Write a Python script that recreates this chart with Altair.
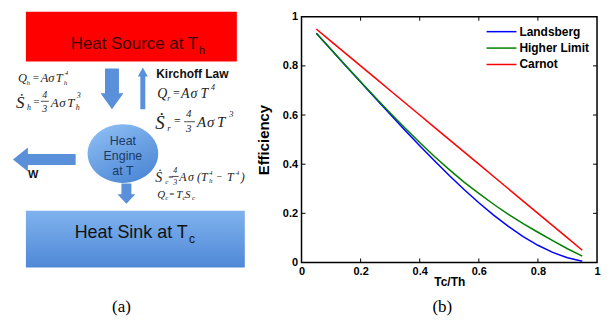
import altair as alt
import pandas as pd

# ---------------- panel (b): efficiency vs Tc/Th ----------------
tc_th = [0.05, 0.10, 0.15, 0.20, 0.25, 0.30, 0.35, 0.40, 0.45, 0.50,
         0.55, 0.60, 0.65, 0.70, 0.75, 0.80, 0.85, 0.90, 0.95]
landsberg = [0.933, 0.867, 0.800, 0.734, 0.668, 0.603, 0.538, 0.475, 0.414, 0.354,
             0.297, 0.243, 0.193, 0.147, 0.105, 0.070, 0.041, 0.019, 0.005]
higher_limit = [0.933, 0.867, 0.801, 0.735, 0.671, 0.608, 0.547, 0.488, 0.431, 0.378,
                0.327, 0.281, 0.237, 0.196, 0.158, 0.123, 0.089, 0.056, 0.026]
carnot = [0.95, 0.90, 0.85, 0.80, 0.75, 0.70, 0.65, 0.60, 0.55, 0.50,
          0.45, 0.40, 0.35, 0.30, 0.25, 0.20, 0.15, 0.10, 0.05]
series_names = ["Landsberg", "Higher Limit", "Carnot"]
series_colors = ["#0000ff", "#008000", "#ff0000"]
axis_ticks = [0, 0.2, 0.4, 0.6, 0.8, 1]
inner_ticks = [0.2, 0.4, 0.6, 0.8]

# ---------------- panel (a): diagram texts ----------------
box_texts = ["Heat Source at T", "h", "Heat Sink at T", "c"]
engine_texts = ["Heat", "Engine", "at T"]
bold_texts = ["Kirchoff Law", "W"]
eq_texts = [
    # Q_h = A sigma T_h^4
    "Q", "h", "=", "A", "σ", "T", "h", "4",
    # S_h = 4/3 A sigma T_h^3
    "Ṡ", "h", "=", "4", "3", "A", "σ", "T", "h", "3",
    # Q_r = A sigma T^4
    "Q", "r", "=", "A", "σ", "T", "4",
    # S_r = 4/3 A sigma T^3
    "Ṡ", "r", "=", "4", "3", "A", "σ", "T", "3",
    # S_c = 4/3 A sigma (T_h^4 - T^4)
    "Ṡ", "c", "=", "4", "3", "A", "σ", "(", "T", "h", "4", "−", "T", "4", ")",
    # Q_c = T_c S_c
    "Q", "c", "=", "T", "c", "S", "c",
]
panel_labels = ["(a)", "(b)"]

# ---------------- layout (diagram units = page pixels) ----------------
eq_layout = [
    (17, 81, 12.5), (25.5, 83.5, 7), (31, 80, 11), (40, 81, 12.5), (47.5, 81, 12.5), (55, 81, 12.5), (63, 83.5, 7), (64, 74, 7),
    (15, 107, 17), (26, 109, 8), (32, 104, 11), (41.5, 97, 10), (41.5, 111, 10), (50, 106, 13), (58.5, 106, 13), (66.5, 106, 13), (75, 108.5, 8), (76, 97, 8),
    (157, 97, 14), (167, 99.5, 8), (172, 96, 12), (181, 97, 14), (190.5, 97, 14), (200.5, 97, 14), (211, 89, 8),
    (155, 128, 19), (167, 130, 9), (173, 124, 12), (186, 116, 11), (186, 131, 11), (197, 126, 15), (207, 126, 15), (217, 126, 15), (229, 116, 9),
    (155, 181, 14), (165, 183, 7), (167.5, 179, 9), (173, 172, 8), (173, 184, 8), (179, 180, 12), (188, 180, 12), (197, 180, 12), (201, 180, 12), (209, 182.5, 7), (209, 174, 7), (216, 179, 10), (227, 180, 12), (236, 174, 7), (241, 180, 12),
    (157, 197, 11), (165, 199, 7), (168.5, 196, 9), (176, 197, 11), (182.5, 199, 7), (185, 197, 11), (192, 199, 7),
]
frac_bars = [(40, 48, 100), (184, 195, 120.5), (172, 178.5, 175.5)]
box_layout = [(70, 47, 17, "#3a0505"), (199, 52, 11, "#3a0505"), (74, 237, 18, "#111111"), (189, 242, 12, "#111111")]
engine_layout = [(122.5, 143.5), (122.5, 158.5), (122.5, 174.5)]
bold_layout = [(156, 77, 12), (27, 177, 11)]

ARROW_DOWN = "M-7,-20.5 L7,-20.5 L7,4.5 L11.5,4.5 L0,20.5 L-11.5,4.5 L-7,4.5 Z"
ARROW_UP = "M0,-21 L5,-12 L2.5,-12 L2.5,21 L-2.5,21 L-2.5,-12 L-5,-12 Z"
ARROW_LEFT = "M-31.5,0 L-16.5,-12 L-16.5,-5.5 L31.5,-5.5 L31.5,5.5 L-16.5,5.5 L-16.5,12 Z"
ARROW_SMALL = "M-5,-10 L5,-10 L5,1 L9,1 L0,10.5 L-9,1 L-5,1 Z"
ELLIPSE = "M-35.5,0 A35.5,29.5 0 1,0 35.5,0 A35.5,29.5 0 1,0 -35.5,0 Z"
arrow_layout = [(111.5, 87.5, ARROW_DOWN), (142.5, 87, ARROW_UP), (43.5, 158.5, ARROW_LEFT), (126, 192.5, ARROW_SMALL)]

# ---------------- build panel (a) ----------------
LW, LH = 246, 247
sx = alt.Scale(domain=[8, 8 + LW], nice=False, zero=False)
sy = alt.Scale(domain=[15, 15 + LH], nice=False, zero=False, reverse=True)


def X(f="x"):
    return alt.X(f + ":Q", scale=sx, axis=None)


def Y(f="y"):
    return alt.Y(f + ":Q", scale=sy, axis=None)


red_box = alt.Chart(pd.DataFrame({"x": [25], "x2": [237], "y": [10], "y2": [60]})).mark_rect(
    color="#ff0000").encode(x=X(), x2="x2:Q", y=Y(), y2="y2:Q")
blue_box = alt.Chart(pd.DataFrame({"x": [25], "x2": [245], "y": [210], "y2": [267]})).mark_rect(
    color=alt.Gradient(gradient="linear", x1=0, x2=0, y1=0, y2=1,
                       stops=[alt.GradientStop(color="#7fb2ee", offset=0),
                              alt.GradientStop(color="#4f88d6", offset=1)])
).encode(x=X(), x2="x2:Q", y=Y(), y2="y2:Q")

engine = alt.Chart(pd.DataFrame({"x": [122.5], "y": [152.5], "p": [ELLIPSE]})).mark_point(
    filled=True, size=4, opacity=1, strokeWidth=0,
    fill=alt.Gradient(gradient="linear", x1=0.2, x2=0.8, y1=0, y2=1,
                      stops=[alt.GradientStop(color="#8cbdf3", offset=0),
                             alt.GradientStop(color="#4a85d4", offset=1)])
).encode(x=X(), y=Y(), shape=alt.Shape("p:N", scale=None))

arrows = alt.Chart(pd.DataFrame({"x": [a[0] for a in arrow_layout], "y": [a[1] for a in arrow_layout],
                                 "p": [a[2] for a in arrow_layout]})).mark_point(
    filled=True, size=4, opacity=1, strokeWidth=0, color="#5a90da"
).encode(x=X(), y=Y(), shape=alt.Shape("p:N", scale=None))


def text_layer(texts, layout, font, weight="normal", style="normal", align="left", color=None):
    df = pd.DataFrame({"t": texts, "x": [l[0] for l in layout], "y": [l[1] for l in layout]})
    enc = dict(x=X(), y=Y(), text="t:N")
    if len(layout[0]) > 2:
        df["s"] = [l[2] for l in layout]
        enc["size"] = alt.Size("s:Q", scale=None)
    if len(layout[0]) > 3:
        df["c"] = [l[3] for l in layout]
        enc["color"] = alt.Color("c:N", scale=None)
    kw = dict(font=font, fontWeight=weight, fontStyle=style, align=align, baseline="alphabetic")
    if color:
        kw["color"] = color
    if "s" not in df:
        kw["fontSize"] = 12.5
    return alt.Chart(df).mark_text(**kw).encode(**enc)


box_text = text_layer(box_texts, box_layout, "Liberation Sans")
engine_text = text_layer(engine_texts, engine_layout, "Liberation Sans", align="center", color="#1d3a63")
bold_text = text_layer(bold_texts, bold_layout, "Liberation Sans", weight="bold", color="#111111")
eq_text = text_layer(eq_texts, eq_layout, "Liberation Serif", style="italic", color="#222222")
bars = alt.Chart(pd.DataFrame({"x": [b[0] for b in frac_bars], "x2": [b[1] for b in frac_bars],
                               "y": [b[2] for b in frac_bars]})).mark_rule(
    color="#222222", strokeWidth=0.8).encode(x=X(), x2="x2:Q", y=Y())
label_a = text_layer([panel_labels[0]], [(121, 312, 17)], "Liberation Serif", align="center", color="#000000")
pad = alt.Chart(pd.DataFrame({"x": [12], "y": [8], "t": ["."]})).mark_text(
    opacity=0, baseline="top", fontSize=6).encode(x=X(), y=Y(), text="t:N")

left = alt.layer(red_box, blue_box, engine, arrows, box_text, engine_text, bold_text, eq_text, bars,
                 label_a, pad).properties(width=LW, height=LH)

# ---------------- build panel (b) ----------------
RW, RH = 297, 247
rows = []
for name, vals in zip(series_names, [landsberg, higher_limit, carnot]):
    for t, v in zip(tc_th, vals):
        rows.append({"tc": t, "eff": v, "series": name})
curves = pd.DataFrame(rows)

xs = alt.Scale(domain=[0, 1], nice=False)
ys = alt.Scale(domain=[0, 1], nice=False)
common_axis = dict(values=axis_ticks, format="~g", ticks=False, domain=False, grid=False,
                   labelFont="Liberation Sans", labelFontWeight="bold", labelFontSize=11,
                   labelColor="black", labelFlush=False, labelOverlap=False,
                   titleFont="Liberation Sans", titleFontWeight="bold",
                   titleColor="black")
xaxis = alt.Axis(labelPadding=3, titlePadding=0, titleFontSize=12, **common_axis)
yaxis = alt.Axis(labelPadding=4, titlePadding=11, titleFontSize=15, **common_axis)


def RX(f):
    return alt.X(f + ":Q", scale=xs, axis=xaxis, title="Tc/Th")


def RY(f):
    return alt.Y(f + ":Q", scale=ys, axis=yaxis, title="Efficiency")


lines = alt.Chart(curves).mark_line(strokeWidth=1.5).encode(
    x=RX("tc"), y=RY("eff"),
    color=alt.Color("series:N", scale=alt.Scale(domain=series_names, range=series_colors), legend=None),
)
tick_df = pd.DataFrame({"t": inner_ticks})
tb = alt.Chart(tick_df).mark_rule(color="black").encode(x=RX("t"), y=alt.value(RH), y2=alt.value(RH - 4))
tt = alt.Chart(tick_df).mark_rule(color="black").encode(x=RX("t"), y=alt.value(0), y2=alt.value(4))
tl = alt.Chart(tick_df).mark_rule(color="black").encode(y=RY("t"), x=alt.value(0), x2=alt.value(4))
tr = alt.Chart(tick_df).mark_rule(color="black").encode(y=RY("t"), x=alt.value(RW), x2=alt.value(RW - 4))

legend_layers = []
for i, (name, col) in enumerate(zip(series_names, series_colors)):
    ldf = pd.DataFrame({"series": [name]})
    yy = 15 + 16.5 * i
    legend_layers.append(alt.Chart(ldf).mark_rule(color=col, strokeWidth=1.5).encode(
        x=alt.value(186), x2=alt.value(216), y=alt.value(yy)))
    legend_layers.append(alt.Chart(ldf).mark_text(
        font="Liberation Sans", fontWeight="bold", fontSize=12, align="left", baseline="middle",
        color="black").encode(x=alt.value(219), y=alt.value(yy), text="series:N"))

right = alt.layer(lines, tb, tt, tl, tr, *legend_layers).properties(
    width=RW, height=RH,
    view=alt.ViewBackground(stroke="black", strokeWidth=1.5),
    title=alt.TitleParams(panel_labels[1], orient="bottom", font="Liberation Serif", fontSize=17,
                          fontWeight="normal", color="black", offset=12, dx=-7),
)

chart = alt.hconcat(left, right, spacing=0).properties(
    padding=0, background="white"
).configure_view(stroke="transparent")

chart.save("out.html", embed_options={"renderer": "svg", "actions": False})
